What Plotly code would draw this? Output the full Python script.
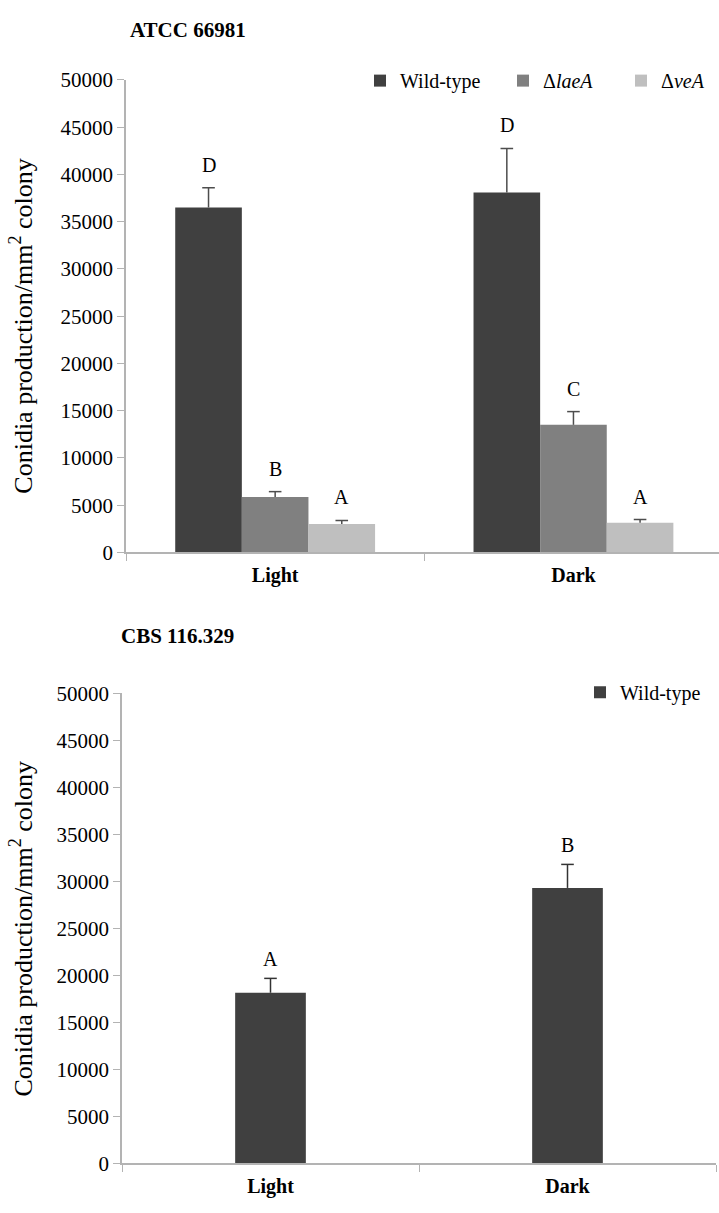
import plotly.graph_objects as go

W, H = 719, 1213

# ---------------- data ----------------
conditions = ["Light", "Dark"]
strain_names_top = ["Wild-type", "Δ<i>laeA</i>", "Δ<i>veA</i>"]
wt_top = [36500, 38100]
wt_top_err = [2100, 4650]
laea_top = [5870, 13500]
laea_top_err = [560, 1400]
vea_top = [3010, 3140]
vea_top_err = [370, 340]
letters_top = [["D", "D"], ["B", "C"], ["A", "A"]]

wt_bottom = [18150, 29300]
wt_bottom_err = [1530, 2500]
letters_bottom = ["A", "B"]

y_ticks = [0, 5000, 10000, 15000, 20000, 25000, 30000, 35000, 40000, 45000, 50000]
y_tick_text = [str(v) for v in y_ticks]
title_top = "ATCC 66981"
title_bottom = "CBS 116.329"
y_title = "Conidia production/mm<sup>2</sup> colony"

colors = ["#404040", "#808080", "#BFBFBF"]
FONT = "Liberation Serif, Times New Roman, serif"
AXIS_COL = "#B3B3B3"
ERR_COL = "#4d4d4d"

# ---------------- layout geometry (pixels) ----------------
def px_x(x):
    return x / W

def px_y(y):
    return 1 - y / H

top_left, top_cat = 126, 298.3
top_y0, top_y50 = 551.3, 69.3
bot_left, bot_right = 122, 716
bot_y0, bot_y50 = 1174.7, 695.0

bargap = 0.33

fig = go.Figure()

top_vals = [wt_top, laea_top, vea_top]
top_errs = [wt_top_err, laea_top_err, vea_top_err]
legend_names = ["legend", "legend2", "legend3"]
for i in range(3):
    fig.add_trace(go.Bar(
        x=conditions, y=top_vals[i], name=strain_names_top[i],
        marker=dict(color=colors[i], line=dict(width=0)),
        error_y=dict(type="data", array=top_errs[i], arrayminus=[0, 0],
                     symmetric=False, color=ERR_COL, thickness=1.5, width=0),
        xaxis="x", yaxis="y", legend=legend_names[i],
    ))
# caps of the error bars (upper end only)
for i in range(3):
    fig.add_trace(go.Scatter(
        x=conditions, y=[v + e for v, e in zip(top_vals[i], top_errs[i])],
        mode="markers", showlegend=False, hoverinfo="skip",
        marker=dict(symbol="line-ew", size=9, line=dict(width=1.5, color=ERR_COL)),
        xaxis="x", yaxis="y",
    ))

fig.add_trace(go.Bar(
    x=conditions, y=wt_bottom, name="Wild-type", width=0.238,
    marker=dict(color=colors[0], line=dict(width=0)),
    error_y=dict(type="data", array=wt_bottom_err, arrayminus=[0, 0],
                 symmetric=False, color="#333333", thickness=1.5, width=0),
    xaxis="x2", yaxis="y2", legend="legend4",
))
fig.add_trace(go.Scatter(
    x=conditions, y=[v + e for v, e in zip(wt_bottom, wt_bottom_err)],
    mode="markers", showlegend=False, hoverinfo="skip",
    marker=dict(symbol="line-ew", size=9, line=dict(width=1.5, color="#333333")),
    xaxis="x2", yaxis="y2",
))

annotations = []
slot = (1 - bargap) / 3
for i in range(3):
    for j in range(2):
        annotations.append(dict(
            x=j + (i - 1) * slot, y=top_vals[i][j] + top_errs[i][j],
            xref="x", yref="y", text=letters_top[i][j], showarrow=False,
            yanchor="middle", yshift=23, font=dict(family=FONT, size=20, color="#000")))
for j in range(2):
    annotations.append(dict(
        x=j, y=wt_bottom[j] + wt_bottom_err[j], xref="x2", yref="y2",
        text=letters_bottom[j], showarrow=False, yanchor="middle", yshift=19,
        font=dict(family=FONT, size=20, color="#000")))

annotations.append(dict(x=px_x(188), y=px_y(18), xref="paper", yref="paper",
                        text="<b>" + title_top + "</b>", showarrow=False,
                        xanchor="center", yanchor="middle",
                        font=dict(family=FONT, size=21, color="#000")))
annotations.append(dict(x=px_x(177), y=px_y(637), xref="paper", yref="paper",
                        text="<b>" + title_bottom + "</b>", showarrow=False,
                        xanchor="center", yanchor="middle",
                        font=dict(family=FONT, size=21, color="#000")))
for yc in [320, 935]:
    annotations.append(dict(x=px_x(22), y=px_y(yc), xref="paper", yref="paper",
                            text=y_title, showarrow=False, textangle=-90,
                            xanchor="center", yanchor="middle",
                            font=dict(family=FONT, size=26, color="#000")))

top_width = W - top_left
top_range_end = -0.5 + top_width / top_cat

xaxis_common = dict(type="category", showline=True, linecolor=AXIS_COL, linewidth=1.5,
                    ticks="outside", tickson="boundaries", ticklen=7, tickcolor=AXIS_COL,
                    tickwidth=1, showgrid=False, zeroline=False, ticklabelstandoff=4,
                    tickfont=dict(family=FONT, size=20, color="#000"),
                    tickprefix="<b>", ticksuffix="</b>", fixedrange=True)
yaxis_common = dict(range=[0, 50000], tickvals=y_ticks, ticktext=y_tick_text,
                    showline=True, linecolor=AXIS_COL,
                    linewidth=1.5, ticks="outside", ticklen=7, tickcolor=AXIS_COL,
                    showgrid=False, zeroline=False,
                    tickfont=dict(family=FONT, size=21, color="#000"))

legend_common = dict(orientation="h", bgcolor="rgba(0,0,0,0)", borderwidth=0,
                     xanchor="left", yanchor="middle",
                     font=dict(family=FONT, size=20, color="#000"))
leg_sym_centers = [380, 523, 641]

layout_kwargs = dict(
    width=W, height=H, margin=dict(l=0, r=0, t=0, b=0),
    paper_bgcolor="white", plot_bgcolor="white",
    barmode="group", bargap=bargap, bargroupgap=0,
    scattermode="group", scattergap=bargap,
    xaxis=dict(domain=[px_x(top_left), 1], range=[-0.5, top_range_end], anchor="y", **xaxis_common),
    yaxis=dict(domain=[px_y(top_y0), px_y(top_y50)], anchor="x", **yaxis_common),
    xaxis2=dict(domain=[px_x(bot_left), px_x(bot_right)], range=[-0.5, 1.5], anchor="y2", **xaxis_common),
    yaxis2=dict(domain=[px_y(bot_y0), px_y(bot_y50)], anchor="x2", **yaxis_common),
    annotations=annotations,
    showlegend=True,
)
for k, name in enumerate(legend_names):
    layout_kwargs[name] = dict(x=px_x(leg_sym_centers[k] - 20), y=px_y(70), **legend_common)
layout_kwargs["legend4"] = dict(x=px_x(600 - 20), y=px_y(694), **legend_common)

fig.update_layout(**layout_kwargs)
fig.write_html("out.html")
